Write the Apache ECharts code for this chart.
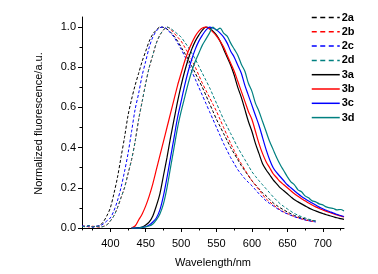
<!DOCTYPE html>
<html>
<head>
<meta charset="utf-8">
<script src="https://cdn.jsdelivr.net/npm/echarts@6/dist/echarts.min.js"></script>
<style>
  html, body { margin: 0; padding: 0; background: #fff; }
  #chart { width: 378px; height: 274px; }
</style>
</head>
<body>
<div id="chart"></div>
<script>
// wavelengths (nm)
var wlDashed = [360,365,370,375,380,385,390,395,400,405,410,415,420,425,430,435,440,445,450,455,460,465,470,475,480,485,490,495,500,505,510,515,520,525,530,535,540,545,550,555,560,565,570,575,580,585,590,595,600,605,610,615,620,625,630,635,640,645,650,655,660,665,670,675,680,685,690];
var wlSolid = [430,435,440,445,450,455,460,465,470,475,480,485,490,495,500,505,510,515,520,525,530,535,540,545,550,555,560,565,570,575,580,585,590,595,600,605,610,615,620,625,630,635,640,645,650,655,660,665,670,675,680,685,690,695,700,705,710,715,720,725,730];

// normalized fluorescence
var f2a = [0.01,0.006,0.012,0.005,0.008,0.012,0.03,0.06,0.1,0.17,0.25,0.35,0.45,0.56,0.64,0.71,0.77,0.83,0.88,0.93,0.965,0.985,1.0,0.998,0.99,0.975,0.955,0.93,0.9,0.87,0.84,0.805,0.77,0.735,0.7,0.66,0.62,0.58,0.54,0.505,0.47,0.435,0.4,0.37,0.34,0.31,0.285,0.26,0.235,0.215,0.195,0.175,0.16,0.142,0.125,0.112,0.1,0.09,0.08,0.071,0.062,0.056,0.05,0.045,0.04,0.037,0.035];
var f2b = [0.008,0.01,0.005,0.009,0.006,0.004,0.008,0.015,0.035,0.06,0.1,0.15,0.2,0.27,0.34,0.43,0.54,0.63,0.72,0.8,0.86,0.92,0.96,0.985,1.0,0.99,0.97,0.95,0.93,0.9,0.87,0.835,0.8,0.76,0.72,0.685,0.65,0.615,0.58,0.54,0.5,0.46,0.42,0.385,0.35,0.32,0.29,0.262,0.235,0.212,0.19,0.167,0.145,0.13,0.115,0.102,0.09,0.08,0.072,0.064,0.057,0.051,0.045,0.04,0.036,0.033,0.03];
var f2c = [0.012,0.007,0.01,0.004,0.009,0.01,0.02,0.035,0.05,0.085,0.135,0.2,0.28,0.37,0.48,0.59,0.67,0.76,0.83,0.9,0.95,0.98,0.997,1.0,0.99,0.97,0.95,0.92,0.89,0.855,0.82,0.78,0.74,0.7,0.66,0.62,0.58,0.54,0.5,0.46,0.42,0.385,0.35,0.32,0.29,0.267,0.245,0.227,0.21,0.19,0.17,0.152,0.135,0.122,0.11,0.098,0.087,0.078,0.07,0.063,0.056,0.05,0.045,0.04,0.036,0.033,0.03];
var f2d = [0.006,0.009,0.011,0.006,0.01,0.005,0.007,0.015,0.035,0.06,0.1,0.15,0.2,0.27,0.34,0.43,0.54,0.63,0.72,0.8,0.86,0.92,0.96,0.985,1.0,0.993,0.98,0.965,0.95,0.925,0.9,0.87,0.84,0.805,0.77,0.735,0.7,0.66,0.62,0.58,0.54,0.505,0.47,0.435,0.4,0.37,0.34,0.31,0.28,0.257,0.235,0.215,0.195,0.175,0.155,0.137,0.12,0.107,0.095,0.083,0.072,0.064,0.056,0.05,0.044,0.039,0.035];
var f3a = [0,0,0.002,0.005,0.015,0.03,0.06,0.11,0.17,0.26,0.35,0.45,0.54,0.63,0.71,0.78,0.84,0.89,0.93,0.96,0.985,1.0,0.995,0.98,0.96,0.93,0.89,0.85,0.81,0.76,0.7,0.65,0.59,0.53,0.48,0.42,0.37,0.32,0.29,0.265,0.24,0.22,0.2,0.185,0.17,0.155,0.14,0.13,0.12,0.11,0.1,0.092,0.085,0.078,0.072,0.066,0.061,0.056,0.051,0.047,0.043];
var f3b = [0,0.01,0.04,0.07,0.11,0.16,0.22,0.29,0.36,0.43,0.5,0.57,0.64,0.71,0.77,0.83,0.88,0.92,0.955,0.98,0.995,1.0,0.99,0.975,0.955,0.93,0.9,0.86,0.82,0.78,0.73,0.68,0.63,0.58,0.54,0.48,0.42,0.37,0.33,0.3,0.27,0.25,0.23,0.215,0.2,0.185,0.17,0.158,0.146,0.135,0.124,0.114,0.105,0.097,0.09,0.083,0.077,0.071,0.065,0.06,0.055];
var f3c = [0,0,0,0.003,0.006,0.015,0.03,0.05,0.09,0.16,0.25,0.35,0.45,0.55,0.63,0.71,0.78,0.84,0.89,0.93,0.96,0.985,1.0,0.995,0.985,0.97,0.95,0.92,0.88,0.85,0.81,0.77,0.71,0.66,0.61,0.56,0.51,0.45,0.39,0.34,0.3,0.275,0.255,0.235,0.215,0.2,0.185,0.17,0.157,0.145,0.134,0.124,0.114,0.104,0.096,0.088,0.081,0.074,0.068,0.062,0.057];
var f3d = [0,0,0,0.003,0.006,0.01,0.02,0.04,0.07,0.12,0.2,0.3,0.4,0.5,0.58,0.65,0.72,0.78,0.83,0.87,0.91,0.94,0.97,1.0,0.985,0.995,0.97,0.955,0.92,0.89,0.86,0.815,0.78,0.72,0.68,0.62,0.58,0.53,0.48,0.43,0.39,0.35,0.315,0.285,0.255,0.23,0.215,0.19,0.18,0.16,0.15,0.135,0.13,0.12,0.115,0.105,0.1,0.097,0.09,0.092,0.085];

var names = ["2a","2b","2c","2d","3a","3b","3c","3d"];
var colors = ["#000000","#ff0000","#0000ff","#008080","#000000","#ff0000","#0000ff","#008080"];
var xMajor = [400,450,500,550,600,650,700];
var xMinor = [375,425,475,525,575,625,675,725];
var yMajor = [0,0.2,0.4,0.6,0.8,1.0];
var yMinor = [0.1,0.3,0.5,0.7,0.9];

function pairs(xs, ys) {
  return xs.map(function (x, i) { return [x, ys[i]]; });
}

var chart = echarts.init(document.getElementById("chart"));
var font = "'Liberation Sans', Arial, sans-serif";
var dataSets = [
  pairs(wlDashed, f2a), pairs(wlDashed, f2b), pairs(wlDashed, f2c), pairs(wlDashed, f2d),
  pairs(wlSolid, f3a), pairs(wlSolid, f3b), pairs(wlSolid, f3c), pairs(wlSolid, f3d)
];

chart.setOption({
  animation: false,
  textStyle: { fontFamily: font },
  grid: { left: 82, right: 34, top: 17, bottom: 44 },
  legend: {
    orient: "vertical",
    left: 306,
    top: 7,
    itemWidth: 28,
    itemHeight: 10,
    itemGap: 3.3,
    // dashed samples in the legend are drawn with longer dashes than the curves
    data: names.map(function (n, i) {
      return {
        name: n,
        lineStyle: { width: 1.5, type: i < 4 ? [5, 3.5] : "solid" }
      };
    }),
    itemStyle: { opacity: 0 },
    textStyle: { fontFamily: font, fontSize: 11, fontWeight: "bold", color: "#000", padding: [0, 0, 0, -3] }
  },
  xAxis: [
    {
      type: "value",
      min: 360,
      max: 730,
      name: "Wavelength/nm",
      nameLocation: "middle",
      nameGap: 27,
      nameTextStyle: { fontFamily: font, fontSize: 11, color: "#000" },
      axisLine: { lineStyle: { color: "#000", width: 1 } },
      axisTick: { customValues: xMajor, length: 4, lineStyle: { color: "#000" } },
      axisLabel: { customValues: xMajor, fontSize: 11, color: "#000", margin: 8, fontFamily: font },
      splitLine: { show: false }
    },
    {
      type: "value",
      min: 360,
      max: 730,
      position: "bottom",
      axisLine: { show: false },
      axisTick: { customValues: xMinor, length: 2.5, lineStyle: { color: "#000" } },
      axisLabel: { show: false },
      splitLine: { show: false }
    }
  ],
  yAxis: [
    {
      type: "value",
      min: -0.01,
      max: 1.05,
      name: "Normalized fluorescence/a.u.",
      nameLocation: "middle",
      nameGap: 38,
      nameTextStyle: { fontFamily: font, fontSize: 11, color: "#000" },
      axisLine: { show: true, lineStyle: { color: "#000", width: 1 } },
      axisTick: { show: true, customValues: yMajor, length: 4, lineStyle: { color: "#000" } },
      axisLabel: {
        customValues: yMajor, fontSize: 11, color: "#000", margin: 6, fontFamily: font,
        formatter: function (v) { return v.toFixed(1); }
      },
      splitLine: { show: false }
    },
    {
      type: "value",
      min: -0.01,
      max: 1.05,
      position: "left",
      axisLine: { show: false },
      axisTick: { show: true, customValues: yMinor, length: 2.5, lineStyle: { color: "#000" } },
      axisLabel: { show: false },
      splitLine: { show: false }
    }
  ],
  series: names.map(function (n, i) {
    return {
      name: n,
      type: "line",
      xAxisIndex: 0,
      yAxisIndex: 0,
      data: dataSets[i],
      symbol: "none",
      smooth: 0.3,
      color: colors[i],
      lineStyle: {
        color: colors[i],
        width: i < 4 ? 1 : 1.2,
        type: i < 4 ? [3, 2] : "solid"
      }
    };
  })
});
</script>
</body>
</html>
